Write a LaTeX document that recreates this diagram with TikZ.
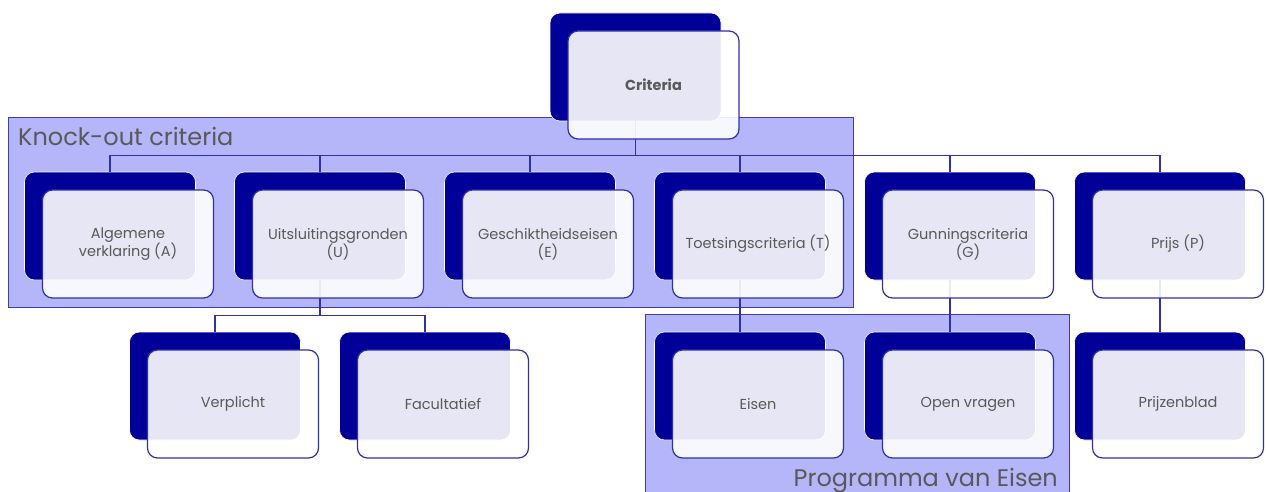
\documentclass[tikz,border=0pt]{standalone}
\usepackage{fontspec}
\setmainfont{Poppins}
\usepackage{tikz}
\usetikzlibrary{calc}
\definecolor{donker}{RGB}{0,0,153}
\definecolor{rand}{RGB}{48,48,170}
\definecolor{groep}{RGB}{181,181,249}
\definecolor{groeprand}{RGB}{60,60,180}
\definecolor{tekst}{RGB}{89,89,89}

\begin{document}
\begin{tikzpicture}[x=1pt, y=-1pt]
  \tikzset{
    achter/.style={rectangle, rounded corners=10pt, fill=donker, draw=white, line width=0.6pt,
      minimum width=171pt, minimum height=108pt, inner sep=0pt},
    voor/.style={rectangle, rounded corners=10pt, fill=white, fill opacity=0.9, text opacity=1,
      draw=rand, line width=1.2pt, minimum width=171pt, minimum height=108pt, inner sep=0pt,
      text=tekst, align=center, font=\fontsize{14.5}{18}\selectfont},
    lijn/.style={draw=rand, line width=1.2pt},
    groepvak/.style={fill=groep, draw=groeprand, line width=1pt},
    groeplabel/.style={text=tekst, font=\fontsize{24}{26}\selectfont, inner sep=0pt}
  }
  \useasboundingbox (0,0) rectangle (1266,492);
  % groepen
  \draw[groepvak] (8,118) rectangle (853,307);
  \node[groeplabel, anchor=base west] (ko) at (18,146) {Knock-out criteria};
  \draw[groepvak] (645,314) rectangle (1069,496);
  \node[groeplabel, anchor=base east] (pve) at (1058,486) {Programma van Eisen};
  % achterste blokken
  \node[achter] (crit) at (635.5,67) {};
  \node[achter] (alg) at (110,226) {};
  \node[achter] (uit) at (320,226) {};
  \node[achter] (ges) at (530,226) {};
  \node[achter] (toe) at (740,226) {};
  \node[achter] (gun) at (950,226) {};
  \node[achter] (prijs) at (1160,226) {};
  \node[achter] (verp) at (215,386) {};
  \node[achter] (fac) at (425,386) {};
  \node[achter] (eis) at (740,386) {};
  \node[achter] (open) at (950,386) {};
  \node[achter] (blad) at (1160,386) {};
  % verbindingen
  \foreach \n in {alg,uit,ges,toe,gun,prijs}
    \draw[lijn] (crit.south) -- ++(0,34) -| (\n.north);
  \foreach \n in {verp,fac}
    \draw[lijn] (uit.south) -- ++(0,35) -| (\n.north);
  \draw[lijn] (toe.south) -- (eis.north);
  \draw[lijn] (gun.south) -- (open.north);
  \draw[lijn] (prijs.south) -- (blad.north);
  % voorste blokken
  \node[voor, font=\fontsize{14.5}{18}\selectfont\bfseries] (crit-v) at ($(crit)+(18,18)$) {Criteria};
  \node[voor] (alg-v) at ($(alg)+(18,18)$) {Algemene\\verklaring (A)};
  \node[voor] (uit-v) at ($(uit)+(18,18)$) {Uitsluitingsgronden\\(U)};
  \node[voor] (ges-v) at ($(ges)+(18,18)$) {Geschiktheidseisen\\(E)};
  \node[voor] (toe-v) at ($(toe)+(18,18)$) {Toetsingscriteria (T)};
  \node[voor] (gun-v) at ($(gun)+(18,18)$) {Gunningscriteria\\(G)};
  \node[voor] (prijs-v) at ($(prijs)+(18,18)$) {Prijs (P)};
  \node[voor] (verp-v) at ($(verp)+(18,18)$) {Verplicht};
  \node[voor] (fac-v) at ($(fac)+(18,18)$) {Facultatief};
  \node[voor] (eis-v) at ($(eis)+(18,18)$) {Eisen};
  \node[voor] (open-v) at ($(open)+(18,18)$) {Open vragen};
  \node[voor] (blad-v) at ($(blad)+(18,18)$) {Prijzenblad};
\end{tikzpicture}
\end{document}
